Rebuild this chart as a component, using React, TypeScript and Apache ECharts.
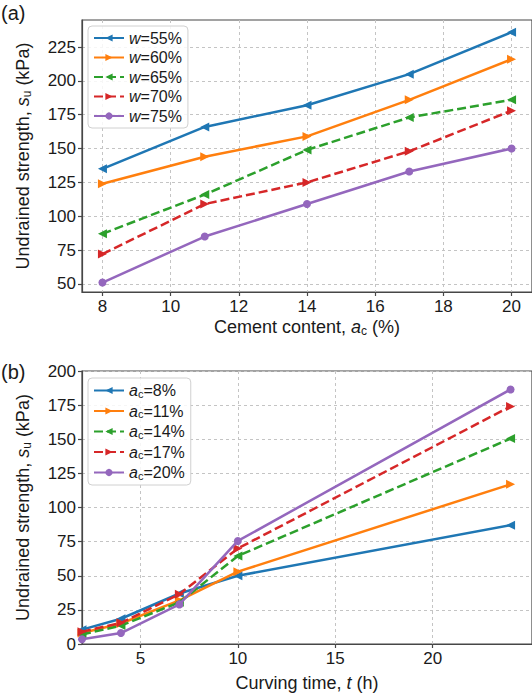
import { useEffect, useRef } from 'react';
import * as echarts from 'echarts';

// Panel (a): strength vs cement content for each water content
const cementContent = [8, 11, 14, 17, 20];
const waterLabels = ['55%', '60%', '65%', '70%', '75%'];
const suW55 = [135, 166, 182, 205, 236];
const suW60 = [124, 144, 159, 186, 216];
const suW65 = [87, 116, 149, 173, 186];
const suW70 = [72, 109, 125, 148, 178];
const suW75 = [51, 85, 109, 133, 150];

// Panel (b): strength vs curing time for each cement content
const curingTime = [2, 4, 7, 10, 24];
const cementLabels = ['8%', '11%', '14%', '17%', '20%'];
const suAc8 = [10.5, 18.5, 37, 50, 87];
const suAc11 = [8, 15, 32, 53, 117];
const suAc14 = [7, 13.5, 30.5, 64.5, 150.5];
const suAc17 = [9, 15.5, 36.5, 70, 174];
const suAc20 = [3.5, 8, 29, 75.5, 186.5];

// Tick labels
const ticksAx = [8, 10, 12, 14, 16, 18, 20];
const ticksAy = [50, 75, 100, 125, 150, 175, 200, 225];
const ticksBx = [5, 10, 15, 20];
const ticksBy = [0, 25, 50, 75, 100, 125, 150, 175, 200];

const COLORS = ['#1f77b4', '#ff7f0e', '#2ca02c', '#d62728', '#9467bd'];
const SYMBOLS = ['triangle', 'triangle', 'triangle', 'triangle', 'circle'];
const ROTATE = [90, -90, 90, -90, 0];
const DASHED = [false, false, true, true, false];

const FONT = 'Liberation Sans, Arial, sans-serif';
const TEXT = '#1a1a1a';
const SPINE = '#474747';
const GRIDLINE = '#c4c4c4';

function rich(size: number, subSize: number, subDrop: number, lh: number) {
  return {
    n: { fontSize: size, fontFamily: FONT, color: TEXT, lineHeight: lh },
    it: { fontSize: size, fontFamily: FONT, color: TEXT, fontStyle: 'italic', lineHeight: lh },
    sub: { fontSize: subSize, fontFamily: FONT, color: TEXT, lineHeight: lh - subDrop, padding: [subDrop, 0, 0, 0] },
  };
}

const nameRich = rich(18, 12, 7, 20);
const legendRich = rich(16, 11, 6, 17);

function makeSeries(
  names: string[],
  xs: number[],
  ys: number[][],
  axisIndex: number,
) {
  return ys.map((vals, i) => ({
    name: names[i],
    type: 'line',
    xAxisIndex: axisIndex,
    yAxisIndex: axisIndex,
    data: xs.map((x, j) => [x, vals[j]]),
    symbol: SYMBOLS[i],
    symbolSize: i === 4 ? 8 : 9,
    symbolRotate: ROTATE[i],
    showSymbol: true,
    clip: false,
    color: COLORS[i],
    lineStyle: {
      width: 2.5,
      color: COLORS[i],
      type: DASHED[i] ? [9, 4] : 'solid',
    },
    itemStyle: { color: COLORS[i], borderWidth: 0 },
    z: 3 + i,
  }));
}

function valueAxis(
  gridIndex: number,
  min: number,
  max: number,
  ticks: number[],
  extra: Record<string, unknown>,
) {
  return {
    type: 'value',
    gridIndex,
    min,
    max,
    axisLine: { show: true, onZero: false, lineStyle: { color: SPINE, width: 1.2 } },
    axisTick: {
      show: true,
      inside: false,
      length: 4,
      customValues: ticks,
      lineStyle: { color: SPINE, width: 1.2 },
    },
    axisLabel: {
      customValues: ticks,
      fontSize: 17,
      fontFamily: FONT,
      color: TEXT,
      margin: 6,
    },
    splitLine: {
      show: true,
      lineStyle: { color: GRIDLINE, type: [3, 3], width: 1 },
    },
    ...extra,
  };
}

function legendBox(top: number, names: string[], fmt: (n: string) => string) {
  return {
    data: names,
    left: 88,
    top,
    orient: 'vertical',
    itemWidth: 30,
    itemHeight: 9,
    itemGap: 3.5,
    padding: [4, 6, 4, 5],
    borderColor: '#d0d0d0',
    borderWidth: 1,
    borderRadius: 4,
    backgroundColor: 'rgba(255,255,255,0.85)',
    formatter: fmt,
    textStyle: { rich: legendRich, fontSize: 16, fontFamily: FONT, color: TEXT },
  };
}

export default function App() {
  const ref = useRef<HTMLDivElement>(null);

  useEffect(() => {
    if (!ref.current) return;
    const chart = echarts.init(ref.current, undefined, { renderer: 'svg' });

    const wNames = waterLabels.map((w) => 'w=' + w);
    const acNames = cementLabels.map((a) => 'ac=' + a);
    const nameStyle = { rich: nameRich, fontSize: 18, fontFamily: FONT, color: TEXT };

    chart.setOption({
      animation: false,
      backgroundColor: '#ffffff',
      textStyle: { fontFamily: FONT },
      grid: [
        { left: 82, top: 20, right: -2, height: 272, show: true, borderColor: SPINE, borderWidth: 1.2 },
        { left: 82, top: 371, right: -4, height: 273, show: true, borderColor: SPINE, borderWidth: 1.2 },
      ],
      xAxis: [
        valueAxis(0, 7.4, 20.6, ticksAx, {
          name: 'Cement content, {it|a}{sub|c} (%)',
          nameLocation: 'middle',
          nameGap: 25,
          nameTextStyle: nameStyle,
        }),
        valueAxis(1, 2, 25.1, ticksBx, {
          name: 'Curving time, {it|t} (h)',
          nameLocation: 'middle',
          nameGap: 29,
          nameTextStyle: nameStyle,
        }),
      ],
      yAxis: [
        valueAxis(0, 44, 245, ticksAy, {
          name: 'Undrained strength, {it|s}{sub|u} (kPa)',
          nameLocation: 'middle',
          nameGap: 49,
          nameTextStyle: nameStyle,
        }),
        valueAxis(1, 0, 200, ticksBy, {
          name: 'Undrained strength, {it|s}{sub|u} (kPa)',
          nameLocation: 'middle',
          nameGap: 49,
          nameTextStyle: nameStyle,
        }),
      ],
      legend: [
        legendBox(26, wNames, (n: string) => '{it|w}{n|' + n.slice(1) + '}'),
        legendBox(378, acNames, (n: string) => '{it|a}{sub|c}{n|' + n.slice(2) + '}'),
      ],
      graphic: [
        {
          type: 'text',
          left: 1,
          top: 3,
          style: { text: '(a)', fontSize: 20, fontFamily: FONT, fill: TEXT },
        },
        {
          type: 'text',
          left: 1,
          top: 362,
          style: { text: '(b)', fontSize: 20, fontFamily: FONT, fill: TEXT },
        },
      ],
      series: [
        ...makeSeries(wNames, cementContent, [suW55, suW60, suW65, suW70, suW75], 0),
        ...makeSeries(acNames, curingTime, [suAc8, suAc11, suAc14, suAc17, suAc20], 1),
      ],
    });

    return () => chart.dispose();
  }, []);

  return (
    <div
      ref={ref}
      style={{ position: 'fixed', left: 0, top: 0, width: 532, height: 695, background: '#fff' }}
    />
  );
}
